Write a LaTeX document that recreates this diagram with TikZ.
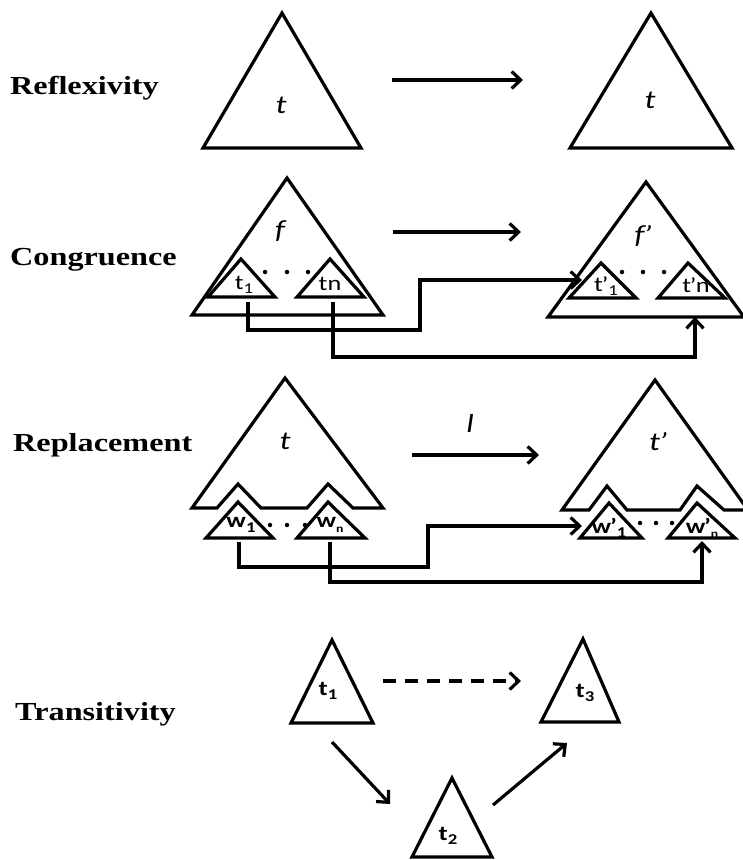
\documentclass[tikz,border=0pt]{standalone}
\usepackage{fontspec}
\setmainfont{Liberation Serif}
\newfontfamily\calibri{Carlito}
\usetikzlibrary{arrows.meta}
% the whole figure is set in a horizontally widened face
\newcommand{\wider}[1]{\scalebox{1.25}[1]{#1}}
\newcommand{\rulename}[1]{\scalebox{1.24}[1]{#1}}
% index placed low beside a term name
\newcommand{\idx}[1]{\raisebox{-0.22em}{\fontsize{15}{16}\selectfont #1}}
\newcommand{\idxn}[1]{\raisebox{-0.22em}{\fontsize{11}{12}\selectfont #1}}

\begin{document}
\begin{tikzpicture}[x=1pt,y=-1pt,
  tri/.style={draw, line width=3.2pt, line join=miter},
  link/.style={line width=3.2pt, -{Straight Barb[length=9pt,width=17pt,line width=3.2pt]}},
  rulelabel/.style={anchor=base west, inner sep=0pt, font=\fontsize{26}{30}\selectfont\bfseries},
  term/.style={inner sep=0pt, font=\calibri\itshape\fontsize{26}{30}\selectfont},
  sub/.style={inner sep=0pt, font=\calibri\fontsize{21}{24}\selectfont},
  subb/.style={inner sep=0pt, font=\calibri\bfseries\fontsize{21}{24}\selectfont},
  dot/.style={circle, fill, inner sep=0pt, minimum size=4.5pt}
]
\useasboundingbox (0,0) rectangle (743,860);

% ---------------- rule names ----------------
\node[rulelabel] (nRefl)  at (10,94)  {\rulename{Reflexivity}};
\node[rulelabel] (nCong)  at (10,265) {\rulename{Congruence}};
\node[rulelabel] (nRepl)  at (13,451) {\rulename{Replacement}};
\node[rulelabel] (nTrans) at (15,720) {\rulename{Transitivity}};

% ---------------- Reflexivity ----------------
\draw[tri] (203,148) -- (282,13) -- (361,148) -- cycle;
\draw[tri] (570,148) -- (651,13) -- (732,148) -- cycle;
\node[term] (rT)  at (281,105) {\wider{t}};
\node[term] (rT2) at (650,100) {\wider{t}};
\coordinate (rA) at (392,80);
\coordinate (rB) at (523,80);
\draw[link] (rA) -- (rB);

% ---------------- Congruence ----------------
\draw[tri] (192,315) -- (287,178) -- (383,315) -- cycle;
\draw[tri] (208,297) -- (241,259) -- (275,297) -- cycle;
\draw[tri] (297,297) -- (330,259) -- (364,297) -- cycle;
\node[term] (cF) at (280,231) {\wider{f}};
\node[sub] (cT1) at (244,285) {\wider{t\idx{1}}};
\node[sub] (cTn) at (330,284) {\wider{tn}};
\node[dot] at (265,272) {};
\node[dot] at (287,272) {};
\node[dot] at (308,272) {};

\draw[tri] (548,317) -- (646,182) -- (744,317) -- cycle;
\draw[tri] (569,298) -- (601,263) -- (636,298) -- cycle;
\draw[tri] (658,298) -- (688,263) -- (725,298) -- cycle;
\node[term] (cFp) at (643,236) {\wider{f\kern-1pt’}};
\node[sub] (cTp1) at (606,286) {\wider{t\kern-1pt’\idx{1}}};
\node[sub] (cTpn) at (696,285) {\wider{t\kern-1pt’n}};
\node[dot] at (622,272) {};
\node[dot] at (643,272) {};
\node[dot] at (664,272) {};

\coordinate (cA) at (393,232);
\coordinate (cB) at (521,232);
\draw[link] (cA) -- (cB);

\coordinate (cT1out) at (248,302);
\coordinate (cT1mid) at (420,330);
\coordinate (cTp1in) at (582,280);
\draw[link] (cT1out) |- (cT1mid) |- (cTp1in);
\coordinate (cTnout) at (333,302);
\coordinate (cTnmid) at (695,357);
\coordinate (cTpnin) at (695,317);
\draw[link] (cTnout) |- (cTnmid) -- (cTpnin);

% ---------------- Replacement ----------------
\draw[tri] (192,508) -- (285,378) -- (383,508) -- (353,508) -- (328,484)
  -- (307,508) -- (261,508) -- (238,484) -- (217,508) -- cycle;
\draw[tri] (206,538) -- (238,502) -- (273,538) -- cycle;
\draw[tri] (297,538) -- (328,502) -- (365,538) -- cycle;
\node[term] (pT) at (285,441) {\wider{t}};
\node[subb] (pW1) at (241,525) {\wider{w\idx{1}}};
\node[subb] (pWn) at (330,525) {\wider{w\idxn{n}}};
\node[dot] at (270,525) {};
\node[dot] at (287,525) {};
\node[dot] at (305,525) {};

\draw[tri] (562,510) -- (655,380) -- (748,510) -- (724,510) -- (697,486)
  -- (680,510) -- (627,510) -- (607,486) -- (589,510) -- cycle;
\draw[tri] (580,538) -- (609,503) -- (642,538) -- cycle;
\draw[tri] (668,538) -- (697,503) -- (735,538) -- cycle;
\node[term] (pTp) at (658,442) {\wider{t\kern-1pt’}};
\node[subb] (pWp1) at (609,528) {\wider{w\kern-1pt’\idx{1}}};
\node[subb] (pWpn) at (702,528) {\wider{w\kern-1pt’\idxn{n}}};
\node[dot] at (640,523) {};
\node[dot] at (656,523) {};
\node[dot] at (672,523) {};

\node[term] (pL) at (470,423) {\wider{l}};
\coordinate (pA) at (412,455);
\coordinate (pB) at (539,455);
\draw[link] (pA) -- (pB);

\coordinate (pW1out) at (239,542);
\coordinate (pW1mid) at (428,567);
\coordinate (pWp1in) at (582,526);
\draw[link] (pW1out) |- (pW1mid) |- (pWp1in);
\coordinate (pWnout) at (330,542);
\coordinate (pWnmid) at (702,582);
\coordinate (pWpnin) at (702,541);
\draw[link] (pWnout) |- (pWnmid) -- (pWpnin);

% ---------------- Transitivity ----------------
\draw[tri] (291,723) -- (332,640) -- (373,723) -- cycle;
\draw[tri] (541,722) -- (583,639) -- (619,722) -- cycle;
\draw[tri] (412,857) -- (452,778) -- (492,857) -- cycle;
\node[subb] (xT1) at (328,691) {\wider{t\idx{1}}};
\node[subb] (xT3) at (585,693) {\wider{t\idx{3}}};
\node[subb] (xT2) at (448,836) {\wider{t\idx{2}}};

\coordinate (xA) at (383,681);
\coordinate (xB) at (521,681);
\draw[link, dash pattern=on 13pt off 9pt] (xA) -- (xB);
\coordinate (xT1out) at (332,742);
\coordinate (xT2in) at (390,804);
\draw[link] (xT1out) -- (xT2in);
\coordinate (xT2out) at (493,805);
\coordinate (xT3in) at (567,743);
\draw[link] (xT2out) -- (xT3in);
\end{tikzpicture}
\end{document}
